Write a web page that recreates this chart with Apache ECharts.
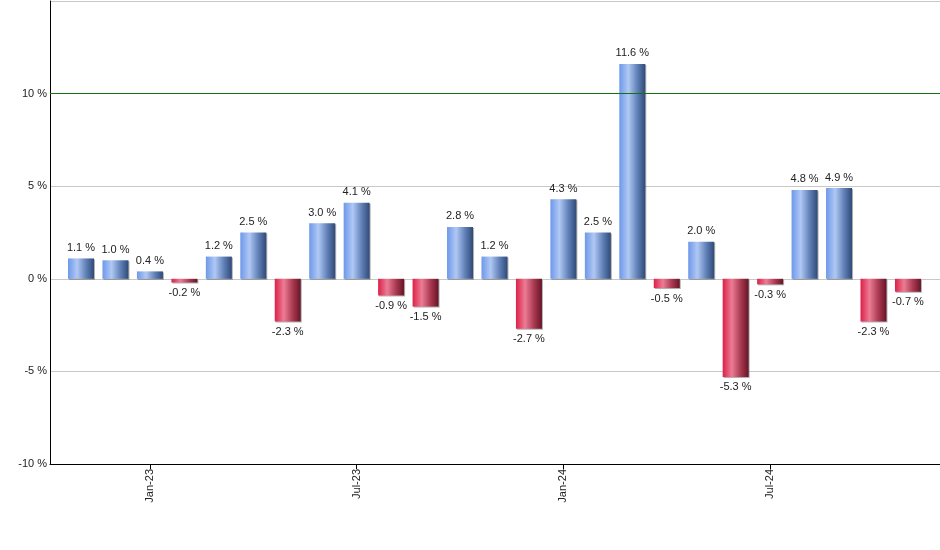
<!DOCTYPE html>
<html>
<head>
<meta charset="utf-8">
<script src="https://cdn.jsdelivr.net/npm/echarts@6/dist/echarts.min.js"></script>
<style>
html,body{margin:0;padding:0;background:#fff;}
#chart{width:940px;height:550px;}
</style>
</head>
<body>
<div id="chart"></div>
<script>
// Monthly categories (Nov-22 .. Nov-24)
var months = ["Nov-22","Dec-22","Jan-23","Feb-23","Mar-23","Apr-23","May-23","Jun-23","Jul-23","Aug-23","Sep-23","Oct-23","Nov-23","Dec-23","Jan-24","Feb-24","Mar-24","Apr-24","May-24","Jun-24","Jul-24","Aug-24","Sep-24","Oct-24","Nov-24"];
var returns = [1.1,1.0,0.4,-0.2,1.2,2.5,-2.3,3.0,4.1,-0.9,-1.5,2.8,1.2,-2.7,4.3,2.5,11.6,-0.5,2.0,-5.3,-0.3,4.8,4.9,-2.3,-0.7];
var xTickLabels = ["Jan-23","Jul-23","Jan-24","Jul-24"];
var yTickValues = [-10,-5,0,5,10];

var xTickIdx = xTickLabels.map(function(l){ return months.indexOf(l); });

var blueGrad = new echarts.graphic.LinearGradient(0,0,1,0,[
  {offset:0,color:'#6d98ea'},
  {offset:0.35,color:'#b0c8f4'},
  {offset:0.7,color:'#5f7fb6'},
  {offset:1,color:'#2f4a78'}
]);
var redGrad = new echarts.graphic.LinearGradient(0,0,1,0,[
  {offset:0,color:'#dc2048'},
  {offset:0.35,color:'#ec7c94'},
  {offset:0.7,color:'#a8384f'},
  {offset:1,color:'#661526'}
]);

var data = returns.map(function(v,i){
  return {
    value:[i,v],
    itemStyle:{color: v>=0 ? blueGrad : redGrad},
    label:{position: v>=0 ? 'top' : 'bottom'}
  };
});

var chart = echarts.init(document.getElementById('chart'));
chart.setOption({
  animation:false,
  backgroundColor:'#ffffff',
  grid:{left:50,right:0,top:1,bottom:86,containLabel:false},
  xAxis:{
    type:'value',
    min:-0.9,
    max:24.93,
    splitLine:{show:false},
    axisLine:{show:true,onZero:false,lineStyle:{color:'#000',width:1}},
    axisTick:{show:true,customValues:xTickIdx,length:5,lineStyle:{color:'#000'}},
    axisLabel:{
      show:true,
      customValues:xTickIdx,
      rotate:90,
      margin:5,
      color:'#222',
      fontFamily:'Liberation Sans, Arial, sans-serif',
      fontSize:11,
      formatter:function(v){ return months[Math.round(v)]; }
    }
  },
  yAxis:{
    type:'value',
    min:-10,
    max:15,
    interval:5,
    axisLine:{show:true,onZero:false,lineStyle:{color:'#000',width:1}},
    axisTick:{show:false},
    splitLine:{show:true,lineStyle:{color:'#c8c8c8',width:1}},
    axisLabel:{
      showMaxLabel:false,
      margin:3,
      color:'#222',
      fontFamily:'Liberation Sans, Arial, sans-serif',
      fontSize:11,
      formatter:function(v){ return yTickValues.indexOf(v)>=0 ? v+' %' : ''; }
    }
  },
  series:[{
    type:'bar',
    barWidth:26,
    data:data,
    itemStyle:{
      shadowColor:'rgba(0,0,0,0.3)',
      shadowBlur:0,
      shadowOffsetX:1,
      shadowOffsetY:1
    },
    label:{
      show:true,
      distance:5,
      color:'#222',
      fontFamily:'Liberation Sans, Arial, sans-serif',
      fontSize:11,
      formatter:function(p){ return p.value[1].toFixed(1)+' %'; }
    },
    markLine:{
      silent:true,
      symbol:['none','none'],
      label:{show:false},
      lineStyle:{color:'#137013',type:'solid',width:1},
      data:[{yAxis:10}]
    }
  }]
});
</script>
</body>
</html>
